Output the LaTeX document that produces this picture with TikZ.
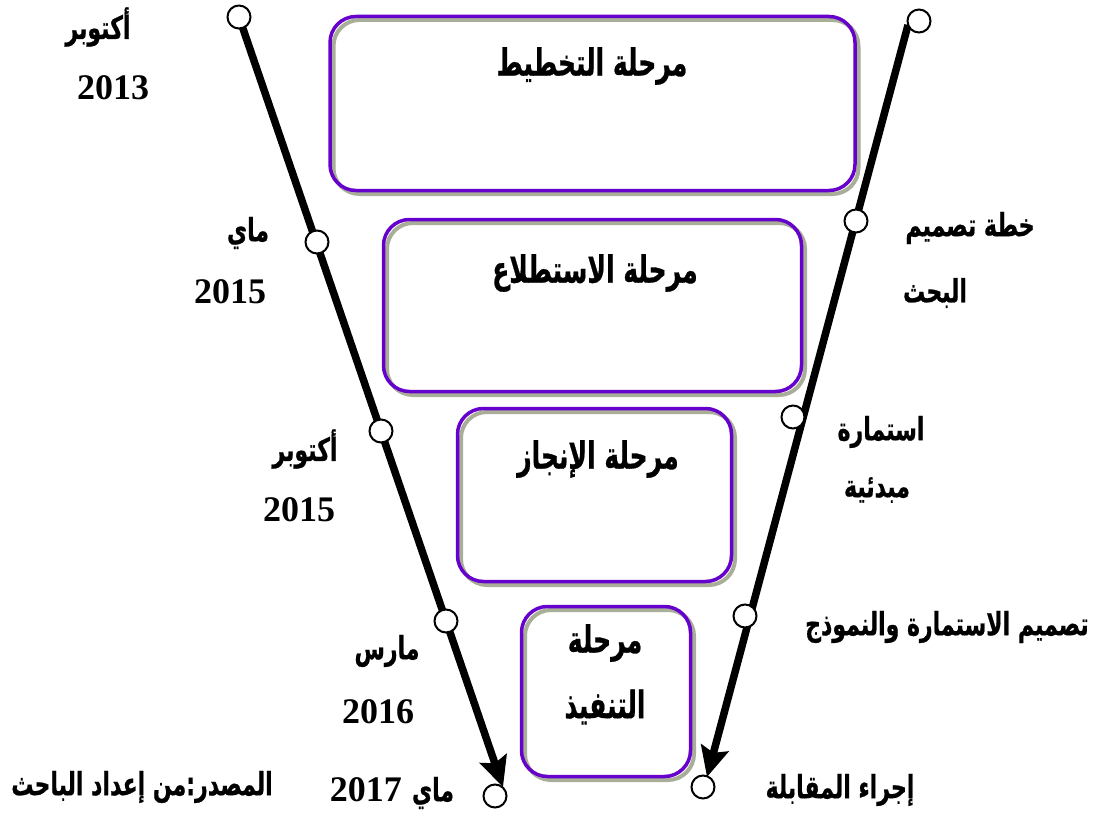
\documentclass[tikz,border=0pt]{standalone}
\usepackage{fontspec}
\usepackage{graphicx}
\usetikzlibrary{arrows.meta}
\TeXXeTstate=1
\newfontfamily\arabicfont[Script=Arabic, BoldFeatures={FakeBold=0.8}]{DejaVu Sans}
\newfontfamily\numfont{Liberation Serif}
\definecolor{boxpurple}{RGB}{102,0,204}
\definecolor{shadowgray}{RGB}{168,174,152}
\newcommand{\AR}[1]{\scalebox{1}[1.45]{\arabicfont\bfseries\fontsize{22}{26}\selectfont\beginR #1\endR}}
\newcommand{\ARB}[1]{\scalebox{1}[1.5]{\arabicfont\bfseries\fontsize{25}{29}\selectfont\beginR #1\endR}}
\newcommand{\NUM}[1]{{\numfont\bfseries\fontsize{36}{40}\selectfont #1}}
\begin{document}
\begin{tikzpicture}[x=1pt,y=-1pt,
  phasebox/.style={draw=boxpurple, line width=3.5pt, rounded corners=26pt, inner sep=0pt,
    preaction={draw=shadowgray, line width=4pt, transform canvas={shift={(3.5pt,-3.5pt)}}}},
  dot/.style={circle, minimum size=23pt, inner sep=0pt},
  timeline/.style={line width=7.5pt, -{Stealth[length=30pt,width=28pt,inset=5pt]}},
  lab/.style={inner sep=0pt, anchor=center}]
\useasboundingbox (0,0) rectangle (1096,816);
% boxes
\node[phasebox, minimum width=525pt, minimum height=174pt] (b1) at (592.5,103.5) {};
\node[phasebox, minimum width=418pt, minimum height=172pt] (b2) at (592.5,305.5) {};
\node[phasebox, minimum width=274pt, minimum height=173pt] (b3) at (594.5,495) {};
\node[phasebox, minimum width=169pt, minimum height=170pt] (b4) at (606,691.5) {};
% box titles
\node[lab] (t1) at (592,66) {\ARB{مرحلة التخطيط}};
\node[lab] (t2) at (595,273) {\ARB{مرحلة الاستطلاع}};
\node[lab] (t3) at (598,459) {\ARB{مرحلة الإنجاز}};
\node[lab] (t4a) at (605,643) {\ARB{مرحلة}};
\node[lab] (t4b) at (605,707) {\ARB{التنفيذ}};
% circle positions
\node[dot] (c1) at (239,17) {};
\node[dot] (c2) at (317,242) {};
\node[dot] (c3) at (381,431) {};
\node[dot] (c4) at (446,621) {};
\node[dot] (c5) at (495,796) {};
\node[dot] (d1) at (919,21) {};
\node[dot] (d2) at (856,221) {};
\node[dot] (d3) at (793,417) {};
\node[dot] (d4) at (745,616) {};
\node[dot] (d5) at (703,787) {};
\coordinate (lt) at (503,787);
\coordinate (rt) at (707,777);
% timelines
\draw[timeline] (c1.center) -- (lt);
\draw[timeline] (d1.200) -- (rt);
% circles on top
\foreach \n in {c1,c2,c3,c4,c5,d1,d2,d3,d4,d5}{
  \draw[line width=2pt, fill=white] (\n.center) circle (11.5pt);
}
% left labels
\node[lab] (l1a) at (98,27) {\AR{أكتوبر}};
\node[lab] (l1b) at (113,88) {\NUM{2013}};
\node[lab] (l2a) at (248,233) {\AR{ماي}};
\node[lab] (l2b) at (230,292) {\NUM{2015}};
\node[lab] (l3a) at (305,449) {\AR{أكتوبر}};
\node[lab] (l3b) at (299,510) {\NUM{2015}};
\node[lab] (l4a) at (387,651) {\AR{مارس}};
\node[lab] (l4b) at (378,712) {\NUM{2016}};
\node[lab] (l5) at (392,793) {\NUM{2017}\hspace{10pt}\AR{ماي}};
\node[lab] (src) at (142,787) {\AR{المصدر:من إعداد الباحث}};
% right labels
\node[lab] (r2a) at (970,228) {\AR{خطة تصميم}};
\node[lab] (r2b) at (935,293) {\AR{البحث}};
\node[lab] (r3a) at (881,432) {\AR{استمارة}};
\node[lab] (r3b) at (877,490) {\AR{مبدئية}};
\node[lab] (r4) at (947,627) {\AR{تصميم الاستمارة والنموذج}};
\node[lab] (r5) at (840,790) {\AR{إجراء المقابلة}};
\end{tikzpicture}
\end{document}
